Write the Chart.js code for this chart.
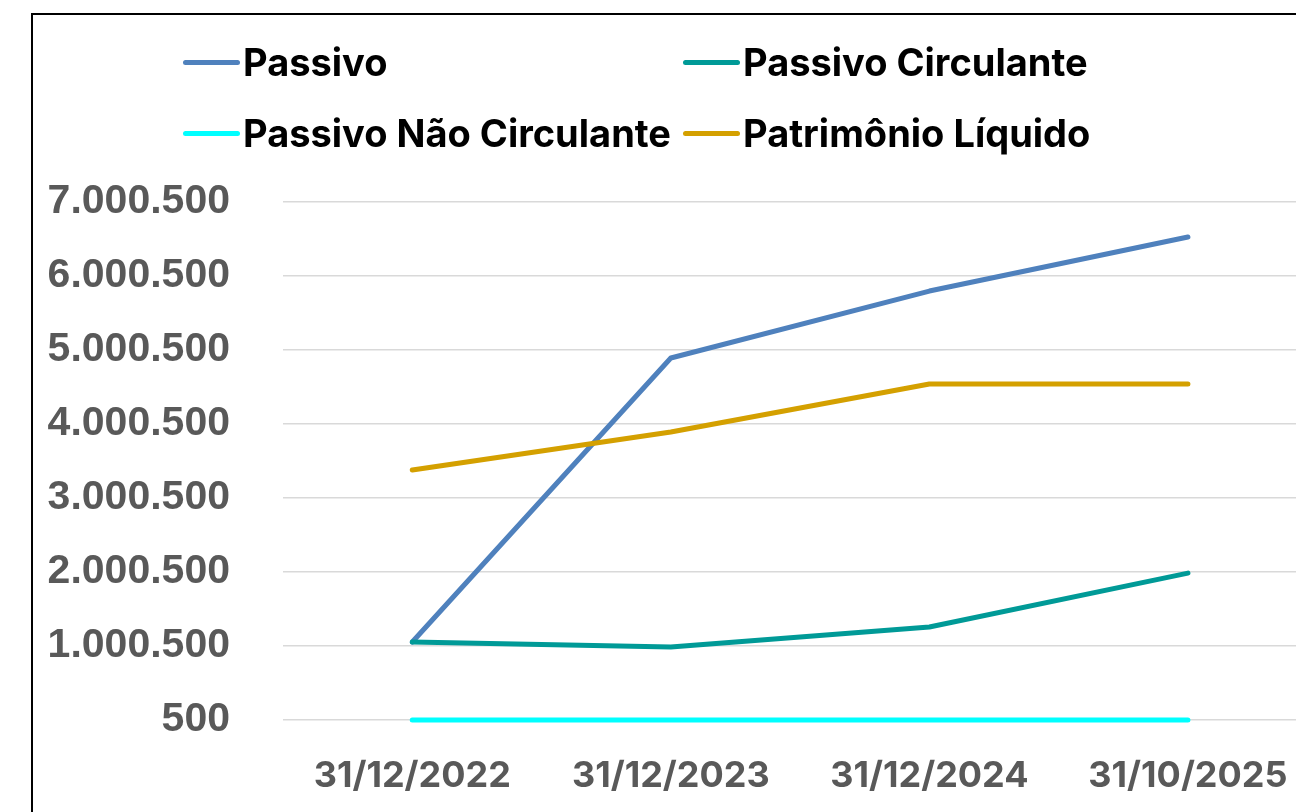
<!DOCTYPE html>
<html>
<head>
<meta charset="utf-8">
<script src="https://cdn.jsdelivr.net/npm/chart.js@4.4.0/dist/chart.umd.min.js"></script>
<style>
  html, body { margin: 0; padding: 0; background: #fff; overflow: hidden; }
  body { width: 1296px; height: 812px; position: relative; }
  #frame {
    position: absolute; left: 31px; top: 13px;
    width: 1300px; height: 820px;
    border-left: 2px solid #000; border-top: 2px solid #000;
  }
  #chart { position: absolute; left: 0; top: 0; }
  #legend { position: absolute; left: 0; top: 0; width: 1296px; height: 180px; }
  .item {
    position: absolute; display: flex; align-items: center; height: 40px;
    font-family: "Inter", sans-serif; font-weight: 700; font-size: 38px; color: #000;
    white-space: nowrap;
  }
  .item .swatch { width: 57px; height: 5px; border-radius: 3px; margin-right: 3px; }
</style>
</head>
<body>
<div id="frame"><canvas id="chart" width="1290" height="800"></canvas></div>
<div id="legend"></div>
<script>
  const categories = ["31/12/2022", "31/12/2023", "31/12/2024", "31/10/2025"];
  const passivo = [1054000, 4892000, 5797000, 6527000];
  const passivoCirculante = [1054000, 986000, 1257000, 1986000];
  const passivoNaoCirculante = [500, 500, 500, 500];
  const patrimonioLiquido = [3378000, 3892000, 4541000, 4541000];
  const yTicks = [500, 1000500, 2000500, 3000500, 4000500, 5000500, 6000500, 7000500];

  const seriesNames = ["Passivo", "Passivo Circulante", "Passivo Não Circulante", "Patrimônio Líquido"];
  const seriesColors = ["#4f81bd", "#009a97", "#00ffff", "#d4a000"];
  const seriesData = [passivo, passivoCirculante, passivoNaoCirculante, patrimonioLiquido];

  const fmt = (v) => String(v).replace(/\B(?=(\d{3})+(?!\d))/g, ".");

  // legend laid out as a 2x2 grid like the original
  const legendPos = [[183, 42], [683, 42], [183, 113], [683, 113]];
  const legend = document.getElementById("legend");
  seriesNames.forEach((name, i) => {
    const el = document.createElement("div");
    el.className = "item";
    el.style.left = legendPos[i][0] + "px";
    el.style.top = legendPos[i][1] + "px";
    el.innerHTML = '<span class="swatch" style="background:' + seriesColors[i] + '"></span><span>' + name + "</span>";
    legend.appendChild(el);
  });

  const datasets = seriesNames.map((name, i) => ({
    label: name,
    data: seriesData[i],
    borderColor: seriesColors[i],
    backgroundColor: seriesColors[i],
    borderWidth: 5,
    borderCapStyle: "round",
    borderJoinStyle: "round",
    pointRadius: 0,
    tension: 0,
    clip: false,
    order: seriesNames.length - i,
  }));

  new Chart(document.getElementById("chart"), {
    type: "line",
    data: { labels: categories, datasets },
    options: {
      responsive: false,
      animation: false,
      layout: { padding: { top: 187, right: 4, left: 0, bottom: 0 } },
      plugins: { legend: { display: false }, tooltip: { enabled: false } },
      scales: {
        x: {
          offset: true,
          grid: { display: false, drawTicks: false, offset: true },
          border: { display: false },
          ticks: {
            color: "#595959",
            padding: 35,
            maxRotation: 0,
            font: { family: "Inter", weight: "bold", size: 36 },
          },
          afterFit: (s) => { s.height = 95; },
        },
        y: {
          min: 500,
          max: 7000500,
          grid: { color: "#d9d9d9", lineWidth: 1.5, drawTicks: false },
          border: { display: false },
          ticks: {
            color: "#595959",
            padding: 53,
            font: { family: "Liberation Sans", weight: "bold", size: 41 },
            callback: (v) => fmt(v),
          },
          afterBuildTicks: (s) => { s.ticks = yTicks.map((v) => ({ value: v })); },
          afterFit: (s) => { s.width = 250; },
        },
      },
    },
  });
</script>
</body>
</html>
